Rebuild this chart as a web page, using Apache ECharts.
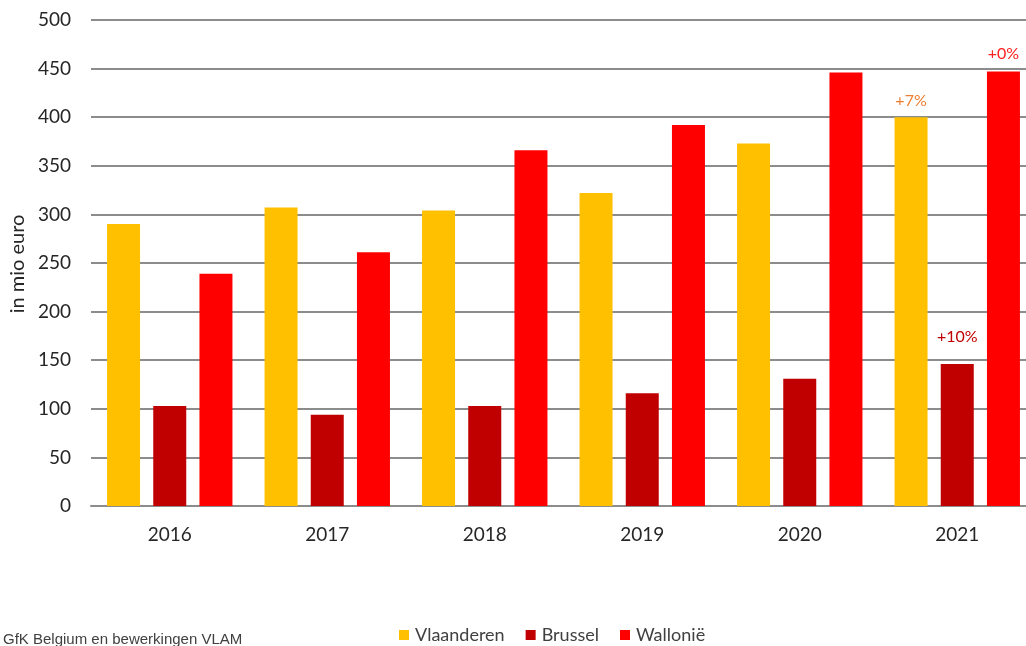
<!DOCTYPE html>
<html>
<head>
<meta charset="utf-8">
<script src="https://cdn.jsdelivr.net/npm/echarts@6/dist/echarts.min.js"></script>
<style>
html,body{margin:0;padding:0;background:#fff;}
#c{width:1026px;height:646px;}
</style>
</head>
<body>
<div id="c"></div>
<script>
const years = ['2016','2017','2018','2019','2020','2021'];
const vlaanderen = [290, 307, 304, 322, 373, 400];
const brussel = [103, 94, 103, 116, 131, 146];
const wallonie = [239, 261, 366, 392, 446, 447];
const yTicks = [0, 50, 100, 150, 200, 250, 300, 350, 400, 450, 500];
const lastLabels = {V: '+7%', B: '+10%', W: '+0%'};
const sourceText = 'GfK Belgium en bewerkingen VLAM';
const yName = 'in mio euro';

const font = 'Lato, "Open Sans", sans-serif';
const chart = echarts.init(document.getElementById('c'), null, {renderer: 'canvas'});

function lastOnly(arr, text, color, dist) {
  return arr.map((v, i) => i === arr.length - 1 ? {
    value: v,
    label: {show: true, position: 'top', distance: dist, formatter: text, color: color, fontSize: 16, fontFamily: font}
  } : v);
}

chart.setOption({
  animation: false,
  grid: {left: 91, width: 945, top: 20, bottom: 140, containLabel: false, outerBoundsMode: 'none'},
  legend: {
    data: ['Vlaanderen', 'Brussel', 'Wallonië'],
    left: 394, top: 621,
    itemWidth: 10, itemHeight: 10, itemGap: 21,
    icon: 'rect',
    textStyle: {fontSize: 18, color: '#404040', fontFamily: font, padding: [0, 0, 0, 1]}
  },
  graphic: [
    {type: 'text', left: 3, top: 632, style: {text: sourceText, fontSize: 15, fill: '#404040', fontFamily: '"Liberation Sans", Arial, sans-serif'}},
    {type: 'text', x: 18, y: 264, rotation: Math.PI / 2, style: {text: yName, fontSize: 20, fill: '#262626', fontFamily: font, align: 'center', verticalAlign: 'middle'}}
  ],
  xAxis: {
    type: 'category',
    data: years,
    axisLine: {show: true, lineStyle: {color: '#8c8c8c', width: 2}},
    axisTick: {show: false},
    axisLabel: {fontSize: 19, color: '#262626', fontFamily: font, margin: 19}
  },
  yAxis: {
    type: 'value',
    min: yTicks[0], max: yTicks[yTicks.length - 1], interval: 50,
    axisLine: {show: false},
    axisTick: {show: false},
    splitLine: {lineStyle: {color: '#8c8c8c', width: 2}},
    axisLabel: {fontSize: 19, color: '#262626', fontFamily: font, margin: 20}
  },
  series: [
    {name: 'Vlaanderen', type: 'bar', barWidth: 33, barGap: '40%',
     itemStyle: {color: '#FFC000'}, data: lastOnly(vlaanderen, lastLabels.V, '#ED7D31', 8)},
    {name: 'Brussel', type: 'bar', barWidth: 33, barGap: '40%',
     itemStyle: {color: '#C00000'}, data: lastOnly(brussel, lastLabels.B, '#C00000', 19)},
    {name: 'Wallonië', type: 'bar', barWidth: 33, barGap: '40%',
     itemStyle: {color: '#FF0000'}, data: lastOnly(wallonie, lastLabels.W, '#FF2020', 10)}
  ]
});
</script>
</body>
</html>
